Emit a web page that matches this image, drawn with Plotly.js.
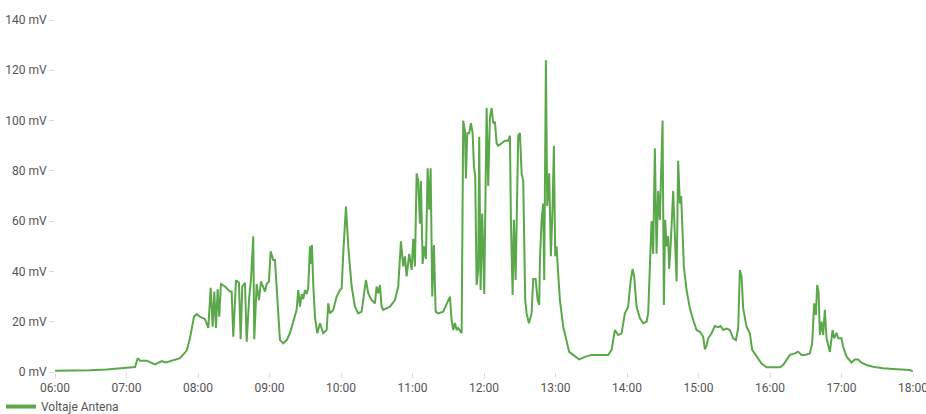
<!DOCTYPE html>
<html>
<head>
<meta charset="utf-8">
<script src="https://cdn.plot.ly/plotly-3.0.1.min.js"></script>
<style>html,body{margin:0;padding:0;background:#fff;}#chart{width:926px;height:414px;}</style>
</head>
<body>
<div id="chart"></div>
<script>
const day = "2024-01-01";
const seriesName = "Voltaje Antena";
const times = [
"06:00:00","06:12:35","06:29:22","06:43:23","06:54:33","07:00:10","07:07:08","07:09:24","07:11:20","07:16:57",
"07:23:55","07:29:32","07:33:09","07:39:01","07:44:54","07:50:31","07:53:17","07:56:38","07:58:54","08:01:40",
"08:05:52","08:08:38","08:10:38","08:12:20","08:13:40","08:15:05","08:16:30","08:17:50","08:19:16","08:22:38",
"08:26:50","08:28:15","08:29:36","08:31:52","08:34:23","08:35:48","08:37:08","08:39:26","08:40:50","08:43:01",
"08:44:26","08:46:22","08:47:13","08:49:14","08:51:10","08:52:51","08:54:46","08:56:11","08:57:37","08:59:32",
"09:00:58","09:03:09","09:04:35","09:06:00","09:07:21","09:08:46","09:11:32","09:14:23","09:17:10","09:19:56",
"09:22:47","09:24:08","09:25:33","09:26:59","09:28:19","09:29:45","09:31:10","09:32:31","09:33:57","09:34:47",
"09:35:37","09:36:43","09:38:08","09:40:04","09:42:20","09:45:06","09:47:57","09:49:18","09:50:44","09:53:30",
"09:56:21","09:59:07","10:00:33","10:01:53","10:04:09","10:06:05","10:08:56","10:11:42","10:14:28","10:17:19",
"10:19:15","10:20:56","10:22:51","10:25:42","10:27:03","10:28:29","10:29:54","10:31:15","10:32:40","10:34:06",
"10:35:26","10:38:17","10:41:04","10:45:15","10:48:02","10:50:18","10:52:14","10:53:39","10:55:04","10:57:15",
"10:59:16","11:00:37","11:02:02","11:03:28","11:04:48","11:06:14","11:07:05","11:08:30","11:09:51","11:11:16",
"11:12:42","11:14:02","11:15:13","11:16:34","11:17:59","11:19:25","11:21:36","11:25:47","11:29:59","11:31:24",
"11:32:50","11:34:10","11:35:36","11:37:01","11:38:22","11:41:13","11:42:34","11:43:59","11:44:49","11:45:55",
"11:47:36","11:49:02","11:50:27","11:51:33","11:52:38","11:53:48","11:55:09","11:55:59","11:57:09","11:58:30",
"12:00:11","12:02:12","12:03:33","12:04:58","12:06:24","12:07:44","12:09:10","12:10:35","12:11:56","12:14:47",
"12:17:33","12:20:20","12:21:45","12:22:35","12:24:01","12:25:06","12:26:32","12:28:43","12:30:08","12:31:34",
"12:32:55","12:34:35","12:35:46","12:37:41","12:39:57","12:41:18","12:43:19","12:45:00","12:46:20","12:46:55",
"12:48:21","12:49:41","12:50:32","12:51:57","12:53:03","12:54:43","12:56:08","12:57:34","12:58:39","12:59:45",
"13:00:55","13:02:16","13:03:42","13:06:28","13:08:44","13:11:30","13:14:51","13:19:53","13:24:40","13:30:18",
"13:37:17","13:44:14","13:47:05","13:49:50","13:52:36","13:55:27","13:58:14","14:01:00","14:03:01","14:04:42",
"14:06:02","14:08:03","14:10:49","14:13:35","14:16:26","14:17:46","14:19:12","14:20:37","14:21:58","14:23:23",
"14:24:49","14:26:09","14:27:35","14:29:00","14:29:51","14:30:56","14:32:02","14:33:12","14:34:33","14:35:23",
"14:36:49","14:38:45","14:40:10","14:41:36","14:42:56","14:44:22","14:45:27","14:46:38","14:47:43","14:49:59",
"14:52:45","14:55:32","14:58:23","15:01:09","15:03:56","15:05:21","15:06:47","15:08:07","15:10:58","15:13:44",
"15:16:31","15:18:32","15:20:43","15:23:34","15:26:20","15:29:07","15:31:22","15:33:18","15:34:43","15:36:09",
"15:37:29","15:40:20","15:43:06","15:45:02","15:48:43","15:52:55","15:57:07","16:01:19","16:04:05","16:08:17",
"16:11:03","16:13:54","16:16:40","16:20:52","16:23:38","16:26:29","16:29:15","16:33:27","16:35:23","16:37:04",
"16:38:29","16:39:35","16:40:45","16:41:51","16:43:16","16:44:37","16:46:02","16:47:28","16:48:48","16:50:14",
"16:52:30","16:53:50","16:55:51","16:57:12","16:59:58","17:01:23","17:04:14","17:07:00","17:08:26","17:11:12",
"17:13:58","17:16:49","17:21:01","17:26:34","17:34:57","17:43:20","17:51:43","17:57:20","17:59:50"
];
const voltage = [
0.5,0.5,0.7,1.0,1.3,1.7,2.0,5.5,4.5,4.5,
3.0,4.3,3.8,4.7,5.5,8.5,13.5,22,23,22,
21,17.5,33.5,18,32,17.5,33,22,35,34,
32,32,14,36.5,35.5,13,34,35.5,12,30,
36.5,54,13,35,28.6,36,34,32,35,36,
48,44.5,44.5,34,20.7,12.7,11.4,12.7,15.4,20,
24.7,32.6,26,31,29,32.6,31,33.6,50,43,
50.5,35,22,15.4,19.4,15.4,16.7,27.3,23.3,24.7,
30,32.6,33.3,47,65.8,50,34,26,23.3,24,
30,36.6,31.3,28.6,28,27.3,34,31.3,34.6,26,
24.7,25.3,26,28.6,34,52,42,46,38,47,
40.6,53,42,79,76,59,76,43,50,45,
81,64.5,81,30,50.5,24,23.3,24,28.6,30,
20.7,16.7,19.5,16.7,17.5,15.4,100,96,77,95,
95,99,95,81.7,78,34.6,40.6,93.6,32.6,63,
31,105,74,101,105,99,99.5,91,90,91,
92,92,94,60.5,30.6,60.5,36.6,94,95,79,
76,28.6,23.3,19.4,23.3,37,37,28.6,26.7,44.5,
60.5,67,36.6,124,66,79,46,66,90,46,
50,39,28.6,18,14,8,6.8,5,6,6.8,
6.8,6.8,8.8,16.7,14.7,15.4,23.3,26,36,41,
38,26,21.4,19.4,20,23.3,42,60,47,89,
47,72,60.5,94,100,26.7,60.5,50,54,41,
52,72,55,36,84,67,70,58,42,32.6,
25.3,20.7,16.7,16,14,9,10.5,13.4,15.4,18.3,
17.8,18.3,16.7,17.3,16.7,13.4,12.7,17.3,40.6,38,
25.3,18,15.4,8.8,6.1,3.4,1.9,1.9,2.1,1.9,
2.8,4.8,6.8,7.4,8.1,6.8,6.8,7.4,11.4,27.3,
22.7,34.6,32,14.7,20,14.7,24.7,13.4,10.7,8,
16.7,13.4,15.6,13.4,13.4,10,6.1,4.8,3.8,5,
5,3.7,2.8,2.1,1.5,1.2,0.8,0.8,0.2
];
const xTickLabels = ["06:00","07:00","08:00","09:00","10:00","11:00","12:00","13:00","14:00","15:00","16:00","17:00","18:00"];
const yTickValues = [0,20,40,60,80,100,120,140];
const yUnit = "mV";
const lineColor = "#5BA84A";

const x = times.map(t => day + " " + t);
const dataTrace = {
  x: x, y: voltage, type: "scatter", mode: "lines", name: seriesName,
  line: {color: lineColor, width: 2}, showlegend: false
};
const legendTrace = {
  x: [null], y: [null], type: "scatter", mode: "lines", name: seriesName,
  line: {color: lineColor, width: 4}, showlegend: true
};
const layout = {
  width: 926, height: 414,
  margin: {l: 55, r: 13, t: 20, b: 42, autoexpand: false},
  paper_bgcolor: "#fff", plot_bgcolor: "#fff",
  font: {family: "Roboto, sans-serif", size: 12, color: "#555"},
  showlegend: true,
  legend: {orientation: "h", x: -0.063, xanchor: "left", y: -0.057, yanchor: "top",
           font: {size: 12, color: "#555"}, bgcolor: "rgba(0,0,0,0)"},
  xaxis: {
    type: "date",
    range: [day + " " + xTickLabels[0], day + " " + xTickLabels[xTickLabels.length - 1]],
    tickvals: xTickLabels.map(t => day + " " + t),
    ticktext: xTickLabels,
    ticks: "outside", ticklen: 5, tickcolor: "#ddd",
    showgrid: false, zeroline: false, showline: false, automargin: false,
    ticklabeloverflow: "allow",
    tickfont: {size: 12, color: "#555"}
  },
  yaxis: {
    range: [0, 140],
    tickvals: yTickValues,
    ticktext: yTickValues.map(v => v + " " + yUnit),
    ticks: "outside", ticklen: 5, tickcolor: "#ddd",
    showgrid: false, zeroline: false, showline: false, automargin: false,
    tickfont: {size: 12, color: "#555"}
  }
};
Plotly.newPlot("chart", [dataTrace, legendTrace], layout, {displayModeBar: false, staticPlot: true});
</script>
</body>
</html>
